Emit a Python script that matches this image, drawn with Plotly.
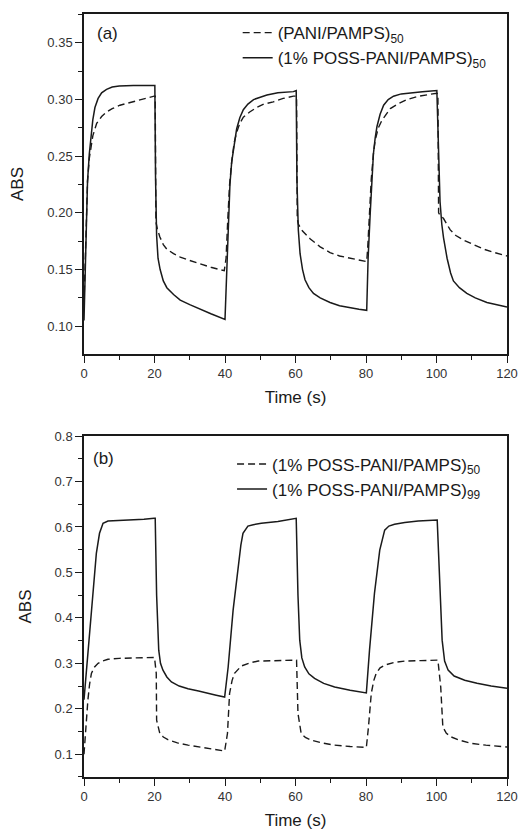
import plotly.graph_objects as go

# ---------------- Data ----------------
# Panel (a): (PANI/PAMPS)50  -- dashed
t_a_pani = [0, 0.3, 0.6, 1.0, 1.5, 2.0, 2.5, 3.6, 5.0, 6.4, 8.0, 10.2, 12.5, 15.0, 17.5, 19.9, 20.2,
            20.4, 20.8, 21.5, 22.5, 23.5, 25.4, 27.3, 30.0, 32.9, 36.0, 39.8,
            40.3, 40.8, 41.3, 41.9, 42.6, 43.3, 44.2, 45.2, 47.0, 49.0, 51.0, 53.7, 56.5, 59.4, 60.3,
            60.5, 60.8, 62.0, 64.2, 67.0, 69.8, 72.5, 75.5, 78.0, 80.2,
            80.5, 81.0, 81.5, 82.1, 82.6, 83.5, 84.5, 86.9, 89.0, 91.6, 95.0, 100.1, 100.4,
            100.6, 101.0, 102.0, 103.9, 105.5, 107.7, 110.5, 113.4, 116.5, 120.0]
abs_a_pani = [0.120, 0.160, 0.200, 0.228, 0.248, 0.260, 0.268, 0.279, 0.285, 0.289, 0.292, 0.295, 0.297, 0.299, 0.301, 0.303, 0.303,
              0.192, 0.186, 0.179, 0.172, 0.168, 0.164, 0.161, 0.158, 0.155, 0.152, 0.149,
              0.160, 0.195, 0.225, 0.245, 0.262, 0.271, 0.279, 0.2845, 0.289, 0.293, 0.296, 0.298, 0.301, 0.303, 0.303,
              0.195, 0.190, 0.184, 0.177, 0.170, 0.165, 0.162, 0.160, 0.158, 0.157,
              0.170, 0.200, 0.230, 0.252, 0.264, 0.275, 0.2816, 0.292, 0.296, 0.300, 0.303, 0.3056, 0.305,
              0.200, 0.198, 0.195, 0.185, 0.180, 0.176, 0.172, 0.168, 0.165, 0.162]

# Panel (a): (1% POSS-PANI/PAMPS)50 -- solid
t_a_poss = [0, 0.3, 0.6, 1.0, 1.5, 2.0, 2.5, 3.1, 4.0, 5.0, 6.4, 8.0, 10.0, 14.0, 20.1,
            20.3, 20.6, 21.0, 21.6, 22.5, 23.5, 25.4, 27.3, 30.0, 32.9, 36.0, 40.0,
            40.5, 41.0, 41.4, 41.9, 42.6, 43.3, 44.2, 45.2, 46.5, 48.1, 50.0, 51.9, 55.0, 59.4, 60.2,
            60.4, 60.8, 61.3, 62.0, 62.7, 63.8, 65.1, 67.0, 69.8, 72.5, 75.5, 78.0, 80.2,
            80.6, 81.2, 81.6, 82.1, 82.6, 83.1, 84.0, 85.0, 86.3, 87.8, 90.0, 92.5, 96.0, 100.1,
            100.6, 101.0, 101.5, 102.0, 103.0, 104.0, 104.8, 106.5, 108.6, 111.0, 114.3, 117.0, 120.0]
abs_a_poss = [0.105, 0.150, 0.195, 0.228, 0.252, 0.268, 0.282, 0.293, 0.301, 0.306, 0.309, 0.311, 0.312, 0.3125, 0.3125,
              0.230, 0.180, 0.160, 0.150, 0.140, 0.134, 0.128, 0.123, 0.119, 0.115, 0.111, 0.106,
              0.150, 0.195, 0.225, 0.245, 0.262, 0.274, 0.284, 0.291, 0.296, 0.300, 0.302, 0.304, 0.306, 0.307, 0.308,
              0.230, 0.185, 0.164, 0.150, 0.141, 0.134, 0.129, 0.125, 0.121, 0.118, 0.116, 0.115, 0.114,
              0.160, 0.200, 0.230, 0.252, 0.266, 0.276, 0.287, 0.295, 0.300, 0.303, 0.305, 0.306, 0.307, 0.308,
              0.250, 0.210, 0.190, 0.178, 0.160, 0.147, 0.140, 0.134, 0.129, 0.125, 0.121, 0.119, 0.117]

# Panel (b): (1% POSS-PANI/PAMPS)50 -- dashed
t_b_50 = [0, 0.4, 0.8, 1.1, 1.6, 2.1, 3.0, 4.0, 5.3, 6.8, 10.0, 13.4, 20.0,
          20.5, 20.6, 21.5, 22.5, 23.8, 26.5, 29.5, 32.5, 35.2, 37.5, 39.9,
          40.7, 41.3, 42.0, 42.7, 44.6, 47.0, 49.4, 54.0, 59.7, 60.3,
          60.7, 61.6, 62.8, 64.5, 67.5, 71.1, 75.5, 80.1,
          80.7, 81.5, 82.2, 82.9, 84.0, 85.3, 88.0, 91.0, 95.5, 100.4,
          101.2, 101.8, 102.8, 104.2, 106.5, 109.9, 114.0, 120.0]
abs_b_50 = [0.100, 0.150, 0.195, 0.219, 0.255, 0.278, 0.292, 0.300, 0.305, 0.309, 0.311, 0.312, 0.313,
            0.278, 0.175, 0.146, 0.138, 0.132, 0.125, 0.120, 0.116, 0.112, 0.110, 0.107,
            0.146, 0.234, 0.262, 0.278, 0.294, 0.301, 0.305, 0.306, 0.307, 0.307,
            0.190, 0.146, 0.137, 0.131, 0.125, 0.120, 0.117, 0.115,
            0.160, 0.234, 0.262, 0.278, 0.290, 0.296, 0.302, 0.305, 0.306, 0.307,
            0.248, 0.160, 0.146, 0.138, 0.131, 0.124, 0.120, 0.116]

# Panel (b): (1% POSS-PANI/PAMPS)99 -- solid
t_b_99 = [0, 0.5, 1.0, 1.6, 2.55, 3.5, 4.4, 5.4, 6.8, 10.0, 13.4, 17.0, 19.9, 20.2,
          20.6, 21.2, 21.7, 22.4, 23.5, 24.8, 27.0, 29.5, 32.5, 35.2, 37.5, 39.9,
          40.9, 42.3, 43.7, 44.5, 45.1, 46.5, 48.0, 50.3, 55.0, 59.7, 60.2,
          60.7, 61.2, 61.8, 62.6, 63.8, 65.4, 68.0, 71.1, 75.5, 80.1,
          81.0, 82.4, 83.9, 85.3, 86.5, 88.1, 91.0, 94.8, 100.2,
          101.0, 101.6, 102.3, 103.3, 105.0, 108.0, 111.5, 115.5, 120.0]
abs_b_99 = [0.220, 0.265, 0.310, 0.370, 0.461, 0.542, 0.586, 0.608, 0.613, 0.614, 0.615, 0.617, 0.619, 0.619,
            0.450, 0.329, 0.300, 0.285, 0.270, 0.259, 0.250, 0.244, 0.239, 0.235, 0.230, 0.226,
            0.292, 0.417, 0.512, 0.560, 0.586, 0.602, 0.605, 0.608, 0.612, 0.617, 0.619,
            0.450, 0.351, 0.312, 0.292, 0.277, 0.267, 0.256, 0.248, 0.241, 0.235,
            0.329, 0.454, 0.549, 0.593, 0.602, 0.606, 0.610, 0.613, 0.615,
            0.450, 0.351, 0.305, 0.285, 0.272, 0.263, 0.256, 0.250, 0.245]

x_ticks = [0, 20, 40, 60, 80, 100, 120]
label_a_pani = "(PANI/PAMPS)<sub>50</sub>"
label_a_poss = "(1% POSS-PANI/PAMPS)<sub>50</sub>"
label_b_50 = "(1% POSS-PANI/PAMPS)<sub>50</sub>"
label_b_99 = "(1% POSS-PANI/PAMPS)<sub>99</sub>"

# ---------------- Figure ----------------
INK = "#1a1a1a"
FONT = "Liberation Sans, Arial, Helvetica, sans-serif"
DASH = "7px,4px"

fig = go.Figure()
fig.add_trace(go.Scatter(x=t_a_pani, y=abs_a_pani, mode="lines", name=label_a_pani,
                         line=dict(color=INK, width=1.4, dash=DASH), xaxis="x", yaxis="y", legend="legend"))
fig.add_trace(go.Scatter(x=t_a_poss, y=abs_a_poss, mode="lines", name=label_a_poss,
                         line=dict(color=INK, width=1.5), xaxis="x", yaxis="y", legend="legend"))
fig.add_trace(go.Scatter(x=t_b_50, y=abs_b_50, mode="lines", name=label_b_50,
                         line=dict(color=INK, width=1.4, dash=DASH), xaxis="x2", yaxis="y2", legend="legend2"))
fig.add_trace(go.Scatter(x=t_b_99, y=abs_b_99, mode="lines", name=label_b_99,
                         line=dict(color=INK, width=1.5), xaxis="x2", yaxis="y2", legend="legend2"))

axis_common = dict(showline=True, linecolor=INK, linewidth=1.5, mirror=True, showgrid=False, zeroline=False,
                   ticks="outside", ticklen=7, tickwidth=1.3, tickcolor=INK, automargin=False,
                   tickfont=dict(family=FONT, size=13, color="#333"))

xcommon = dict(axis_common, range=[0, 120], tickvals=x_ticks, ticktext=[str(v) for v in x_ticks],
               minor=dict(ticks="outside", ticklen=4, tickwidth=1.2, tickcolor=INK, dtick=10, tick0=0),
               title=dict(text="Time (s)", font=dict(family=FONT, size=17, color=INK), standoff=11))

ytitle = dict(text="ABS", font=dict(family=FONT, size=17, color=INK), standoff=19)

fig.update_layout(
    width=518, height=830,
    paper_bgcolor="white", plot_bgcolor="white",
    margin=dict(l=84, r=11, t=14, b=53, autoexpand=False),
    font=dict(family=FONT, color=INK),
    xaxis=dict(xcommon, domain=[0, 1], anchor="y"),
    yaxis=dict(axis_common, domain=[0.5544, 1.0], anchor="x", range=[0.0755, 0.3755],
               dtick=0.05, tick0=0, tickformat=".2f",
               minor=dict(ticks="outside", ticklen=4, tickwidth=1.2, tickcolor=INK, dtick=0.025, tick0=0),
               title=ytitle),
    xaxis2=dict(xcommon, domain=[0, 1], anchor="y2"),
    yaxis2=dict(axis_common, domain=[0.0, 0.4469], anchor="x2", range=[0.05, 0.8],
                dtick=0.1, tick0=0, tickformat=".1f",
                minor=dict(ticks="outside", ticklen=4, tickwidth=1.2, tickcolor=INK, dtick=0.05, tick0=0),
                title=ytitle),
    legend=dict(x=0.3633, y=0.9986, xanchor="left", yanchor="top", bgcolor="rgba(0,0,0,0)",
                font=dict(family=FONT, size=17, color=INK), tracegroupgap=0, itemwidth=30),
    legend2=dict(x=0.350, y=0.4333, xanchor="left", yanchor="top", bgcolor="rgba(0,0,0,0)",
                 font=dict(family=FONT, size=17, color=INK), tracegroupgap=0, itemwidth=30),
    showlegend=True,
    annotations=[
        dict(text="(a)", xref="paper", yref="paper", x=0.026, y=0.9738,
             xanchor="left", yanchor="middle", showarrow=False, font=dict(family=FONT, size=17, color=INK)),
        dict(text="(b)", xref="paper", yref="paper", x=0.0165, y=0.418,
             xanchor="left", yanchor="middle", showarrow=False, font=dict(family=FONT, size=17, color=INK)),
    ],
)

# Remove the page's default body margin so the 518x830 figure fills the window exactly.
fig.write_html("out.html",
               config={"displayModeBar": False},
               post_script="document.body.style.margin='0';document.body.style.overflow='hidden';")
